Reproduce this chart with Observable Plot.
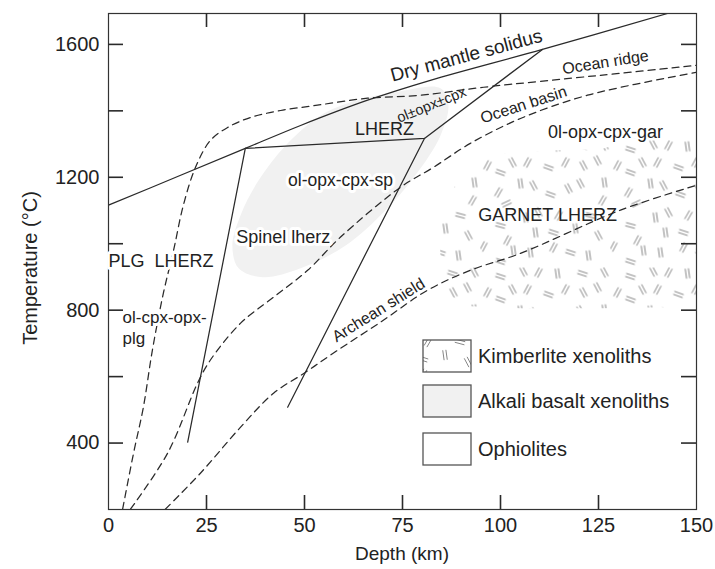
<!DOCTYPE html>
<html><head><meta charset="utf-8">
<script src="https://cdn.jsdelivr.net/npm/d3@7"></script>
<script src="https://cdn.jsdelivr.net/npm/@observablehq/plot@0.6"></script>
<style>
body{margin:0;background:#fff;overflow:hidden;}
#chart svg{font-family:"Liberation Sans",Arial,sans-serif;}
</style></head><body>
<div id="chart"></div>
<script>
// ---- data: [depth (km), temperature (°C)] ----
const drySolidus = [[0,1116],[18.4,1206],[34.9,1287],[49.0,1356],[66.1,1432],[82.1,1492],[110.7,1585],[142.6,1693]];
const lherzUpper = [[34.9,1287],[80.6,1317],[110.7,1585]];
const plgSpinelBoundary = [[34.9,1287],[20.2,403]];
const spinelGarnetBoundary = [[80.6,1317],[45.7,508]];
const oceanRidge = [[3.6,201],[6.4,370],[8.9,508],[11.2,680],[14.0,851],[16.6,980],[19.1,1116],[22.2,1230],[26.0,1311],[30.4,1350],[36.2,1380],[43.9,1401],[53.3,1417],[66.1,1438],[79.6,1447],[95.7,1471],[125.5,1507],[150,1537]];
const oceanBasin = [[5.6,201],[15.1,370],[22.7,580],[26.0,650],[33.7,761],[42.1,839],[50.8,920],[59.2,1020],[74.5,1170],[82.9,1230],[92.3,1302],[105.1,1377],[122.2,1447],[150,1516]];
const archeanShield = [[14.5,201],[23.5,310],[33.7,448],[42.1,550],[50.0,611],[57.4,671],[69.4,764],[81.4,860],[92.3,920],[105.1,971],[130.6,1101],[150,1176]];
const alkaliBasaltOutline = [[73.2,1456],[84.7,1468],[86.7,1420],[84.7,1326],[78.3,1206],[70.7,1101],[60.5,995],[49.0,926],[39.3,899],[33.2,926],[31.6,995],[33.7,1086],[38.3,1191],[45.2,1296],[54.1,1386],[63.0,1430]];
const kimberliteOutline = [[150,1330],[135.7,1322],[125.5,1284],[115.3,1281],[102.6,1275],[94.9,1254],[89.8,1206],[86.5,1131],[84.4,1041],[84.8,935],[86.8,845],[92.3,812],[105.1,806],[125.5,806],[150,810]];
const xTickLabels = [0,25,50,75,100,125,150];
const xTickMarks = [25,50,75,100,125];
const yTickLabels = [400,800,1200,1600];
const yTickMarks = [400,600,800,1000,1200,1400,1600];
const legendItems = ["Kimberlite xenoliths","Alkali basalt xenoliths","Ophiolites"];
// labels: text, depth, temperature, rotation, size
const lineLabels = [
  {t:"Dry mantle solidus", x:91.3, y:1566, r:-15, s:19},
  {t:"Ocean ridge", x:126.8, y:1546, r:-9, s:16},
  {t:"Ocean basin", x:105.9, y:1418, r:-18, s:16},
  {t:"ol±opx±cpx", x:82.4, y:1418, r:-22, s:14.5},
  {t:"LHERZ", x:70.4, y:1344, r:0, s:18},
  {t:"Archean shield", x:68.9, y:800, r:-32, s:16},
  {t:"0l-opx-cpx-gar", x:126.8, y:1335, r:0, s:18},
  {t:"GARNET LHERZ", x:112.0, y:1086, r:0, s:18}
];
const boxedLabels = [
  {t:"ol-opx-cpx-sp", x:59.2, y:1191, s:17.5},
  {t:"Spinel lherz", x:44.6, y:1020, s:18}
];
const leftLabels = [
  {t:"PLG\u00a0\u00a0LHERZ", x:0, y:947, s:18},
  {t:"ol-cpx-opx-", x:3.6, y:778, s:17},
  {t:"plg", x:3.6, y:716, s:17}
];

const ink = "#2a2a2a";
const solid = {x: d => d[0], y: d => d[1], stroke: ink, strokeWidth: 1.25};
const dashed = {...solid, strokeDasharray: "7,5", curve: "catmull-rom", clip: true};
const plain = d => String(d);
const tickStyle = {stroke: "#2a2a2a", strokeWidth: 1.6};

const plot = Plot.plot({
  width: 715, height: 569,
  marginLeft: 108, marginRight: 19, marginTop: 13, marginBottom: 60,
  x: {domain: [0, 150]},
  y: {domain: [200, 1693]},
  style: {fontFamily: "'Liberation Sans', Arial, sans-serif", fontSize: "20px", color: "#222", background: "white", overflow: "visible"},
  marks: [
    Plot.line(alkaliBasaltOutline, {x: d => d[0], y: d => d[1], curve: "catmull-rom-closed", fill: "#f1f1f1", stroke: "none"}),
    Plot.line(kimberliteOutline, {x: d => d[0], y: d => d[1], curve: "linear-closed", fill: "url(#kimb)", stroke: "none"}),
    Plot.line(drySolidus, {...solid, curve: "catmull-rom", clip: true}),
    Plot.line(lherzUpper, solid),
    Plot.line(plgSpinelBoundary, solid),
    Plot.line(spinelGarnetBoundary, solid),
    Plot.line(oceanRidge, dashed),
    Plot.line(oceanBasin, dashed),
    Plot.line(archeanShield, dashed),
    Plot.frame({stroke: "#333", strokeWidth: 1.2}),
    // inward ticks on all four sides
    Plot.tickX(xTickMarks, {x: d => d, insetTop: 482, ...tickStyle}),
    Plot.tickX(xTickMarks, {x: d => d, insetBottom: 482, ...tickStyle}),
    Plot.tickY(yTickMarks, {y: d => d, insetRight: 573, ...tickStyle}),
    Plot.tickY(yTickMarks, {y: d => d, insetLeft: 573, ...tickStyle}),
    Plot.axisX({anchor: "bottom", ticks: xTickLabels, tickSize: 0, tickPadding: 8, tickFormat: plain, label: null, fontSize: 20}),
    Plot.axisY({anchor: "left", ticks: yTickLabels, tickSize: 0, tickPadding: 9, tickFormat: plain, label: null, fontSize: 20}),
    Plot.text(lineLabels, {x: "x", y: "y", text: "t", rotate: "r", fontSize: "s", fill: "#222"}),
    Plot.text(boxedLabels, {x: "x", y: "y", text: "t", fontSize: "s", fill: "#222", stroke: "white", strokeWidth: 6, paintOrder: "stroke"}),
    Plot.text(leftLabels, {x: "x", y: "y", text: "t", fontSize: "s", textAnchor: "start", fill: "#222", stroke: "white", strokeWidth: 6, paintOrder: "stroke"})
  ]
});
document.getElementById("chart").appendChild(plot);
const svg = d3.select(plot);

// ---- kimberlite texture (fill pattern) ----
const tile = [
  [20,9,18],[43,4,62],[58,5,-62],[77,6,82],[102,6,18],[124,5,62],
  [7,25,-62],[20,32,20],[32,22,62],[47,22,-62],[68,27,20],[85,22,-62],[103,25,62],[117,20,62],
  [18,52,-60],[40,43,82],[53,45,62],[70,54,20],[88,48,62],[100,43,62],[124,42,82],
  [122,60,-60],[26,63,-25],[110,75,15],[45,77,82],[58,72,62],[78,75,-60],
  [20,85,15],[27,100,-62],[55,92,82],[73,92,18],[95,88,82],[118,95,62],
  [3,106,-62],[20,121,18],[33,110,82],[50,112,82],[73,107,-62],[90,112,18],[108,115,82]
];
const defs = svg.insert("defs", ":first-child");
const pat = defs.append("pattern").attr("id", "kimb").attr("patternUnits", "userSpaceOnUse")
  .attr("x", 480).attr("y", 140).attr("width", 130).attr("height", 127);
for (const [cx, cy, a] of tile) {
  const r = a * Math.PI / 180, c = Math.cos(r), s = Math.sin(r);
  for (const o of [-1.6, 1.6]) {
    const ox = -s * o, oy = c * o;
    pat.append("line")
      .attr("x1", cx + ox - c * 5).attr("y1", cy + oy - s * 5)
      .attr("x2", cx + ox + c * 5).attr("y2", cy + oy + s * 5)
      .attr("stroke", "#858585").attr("stroke-width", 1);
  }
}

// ---- legend inside plot area ----
const lg = svg.append("g").attr("text-anchor", "start");
const fills = ["url(#kimb)", "#f1f1f1", "white"];
const rows = [340, 385, 433];
legendItems.forEach((t, i) => {
  lg.append("rect").attr("x", 423).attr("y", rows[i]).attr("width", 48).attr("height", 32)
    .attr("fill", fills[i]).attr("stroke", "#555").attr("stroke-width", 1.3);
  lg.append("text").attr("x", 478).attr("y", rows[i] + 16).attr("dy", "0.35em")
    .attr("text-anchor", "start").attr("font-size", 20).attr("fill", "#222").text(t);
});

// ---- axis titles ----
svg.append("text").attr("transform", "translate(30,268) rotate(-90)").attr("text-anchor", "middle")
  .attr("dy", "0.35em").attr("font-size", 20).attr("fill", "#222").text("Temperature (°C)");
svg.append("text").attr("x", 402).attr("y", 553).attr("text-anchor", "middle")
  .attr("dy", "0.35em").attr("font-size", 19).attr("fill", "#222").text("Depth (km)");
</script>
</body></html>
